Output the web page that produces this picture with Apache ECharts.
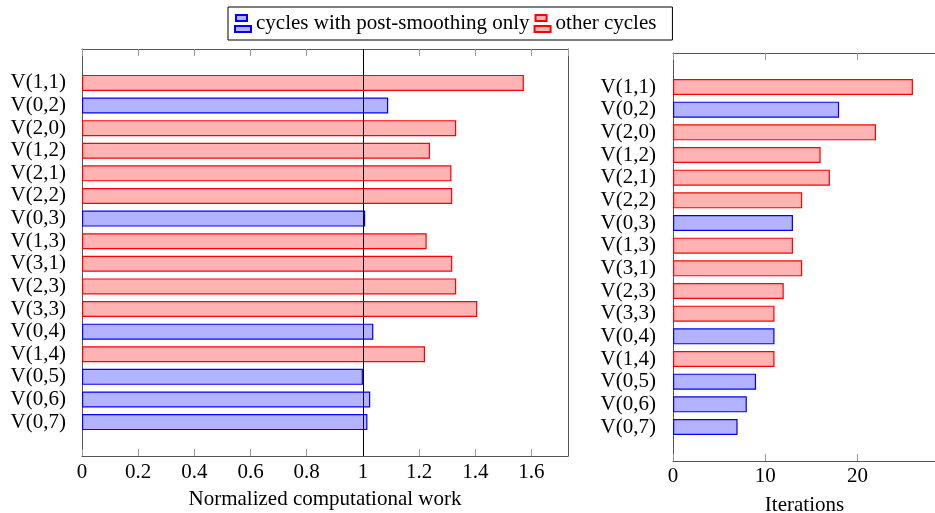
<!DOCTYPE html>
<html><head><meta charset="utf-8">
<script src="https://cdn.jsdelivr.net/npm/echarts@6/dist/echarts.min.js"></script>
<style>html,body{margin:0;padding:0;background:#fff}#c{width:935px;height:513px}</style>
</head><body><div id="c"></div>
<script>
const categories = ['V(1,1)','V(0,2)','V(2,0)','V(1,2)','V(2,1)','V(2,2)','V(0,3)','V(1,3)','V(3,1)','V(2,3)','V(3,3)','V(0,4)','V(1,4)','V(0,5)','V(0,6)','V(0,7)'];
const postSmoothingOnly = [false,true,false,false,false,false,true,false,false,false,false,true,false,true,true,true];
const normalizedWork = [1.573,1.090,1.332,1.239,1.315,1.318,1.008,1.227,1.318,1.332,1.407,1.037,1.221,1.0,1.026,1.016];
const iterations = [26,18,22,16,17,14,13,13,14,12,11,11,11,9,8,7];
const seriesNames = ['cycles with post-smoothing only','other cycles'];
const referenceWork = 1;
const workTicks = {min: 0, max: 1.73, interval: 0.2};
const iterTicks = {min: 0, max: 28.5, interval: 10};
const axisTitles = ['Normalized computational work', 'Iterations'];

const FONT = 'Liberation Serif';
const FS = 21;
const BOX = '#555';
const BLUE = {color: '#b3b3ff', borderColor: '#0000ff', borderWidth: 1.2};
const RED = {color: '#ffb3b3', borderColor: '#ff0000', borderWidth: 1.2};

const axisCats = [''].concat(categories, ['']);
function pick(values, wantPost) {
  return ['-'].concat(values.map((v, i) => (postSmoothingOnly[i] === wantPost ? v : '-')), ['-']);
}

const legendIcon = 'path://M1,0h11v6h-11z M0,11h16v6h-16z';

function boxLine() {
  return {show: true, onZero: false, lineStyle: {color: BOX, width: 1}};
}
function tickStyle() {
  return {show: true, inside: true, length: 7, lineStyle: {color: '#999', width: 1}};
}
function xAxes(gridIndex, ticks, title, nameGap, labelMargin) {
  return [
    {
      gridIndex, type: 'value', position: 'bottom',
      min: ticks.min, max: ticks.max, interval: ticks.interval,
      splitLine: {show: false},
      axisLine: boxLine(),
      axisTick: tickStyle(),
      name: title, nameLocation: 'middle', nameGap,
      nameTextStyle: {fontFamily: FONT, fontSize: FS, color: '#000'},
      axisLabel: {fontFamily: FONT, fontSize: FS, color: '#000', margin: labelMargin, showMaxLabel: false}
    },
    {
      gridIndex, type: 'value', position: 'top',
      min: ticks.min, max: ticks.max, interval: ticks.interval,
      splitLine: {show: false},
      axisLine: boxLine(),
      axisTick: tickStyle(),
      axisLabel: {show: false}
    }
  ];
}
function yAxis(gridIndex, margin) {
  return {
    gridIndex, type: 'category', data: axisCats, inverse: true, position: 'left',
    axisTick: {show: false}, axisLine: boxLine(), splitLine: {show: false},
    axisLabel: {fontFamily: FONT, fontSize: FS, color: '#000', margin, interval: 0}
  };
}
function yAxisRightEdge(gridIndex) {
  return {
    gridIndex, type: 'category', data: axisCats, inverse: true, position: 'right',
    axisTick: {show: false}, axisLine: boxLine(), splitLine: {show: false},
    axisLabel: {show: false}
  };
}
function bars(name, data, xi, yi, style, extra) {
  return Object.assign({
    name, type: 'bar', data, xAxisIndex: xi, yAxisIndex: yi,
    barWidth: 16, barGap: '-100%', itemStyle: style, animation: false, silent: true
  }, extra || {});
}

const chart = echarts.init(document.getElementById('c'), null, {renderer: 'canvas'});
chart.setOption({
  animation: false,
  textStyle: {fontFamily: FONT},
  legend: {
    data: [
      {name: seriesNames[0], textStyle: {width: 280}},
      {name: seriesNames[1], textStyle: {width: 104}}
    ],
    left: 228, top: 7,
    padding: [6, 16, 6, 6], itemGap: 4, itemWidth: 16, itemHeight: 17,
    icon: legendIcon,
    borderColor: '#000', borderWidth: 1, backgroundColor: '#fff',
    textStyle: {fontFamily: FONT, fontSize: FS, color: '#000'},
    selectedMode: false
  },
  grid: [
    {left: 82, top: 49, width: 486, height: 407, outerBoundsMode: 'none', containLabel: false},
    {left: 673, top: 53, right: -1, height: 408, outerBoundsMode: 'none', containLabel: false}
  ],
  xAxis: xAxes(0, workTicks, axisTitles[0], 33, 6).concat(xAxes(1, iterTicks, axisTitles[1], 34, 5)),
  yAxis: [yAxis(0, 16), yAxis(1, 17), yAxisRightEdge(0)],
  series: [
    bars(seriesNames[0], pick(normalizedWork, true), 0, 0, BLUE),
    bars(seriesNames[1], pick(normalizedWork, false), 0, 0, RED, {
      markLine: {
        silent: true, symbol: 'none', label: {show: false},
        lineStyle: {color: '#000', width: 1, type: 'solid'},
        data: [{xAxis: referenceWork}]
      }
    }),
    bars(seriesNames[0], pick(iterations, true), 2, 1, BLUE),
    bars(seriesNames[1], pick(iterations, false), 2, 1, RED)
  ]
});
</script>
</body></html>
